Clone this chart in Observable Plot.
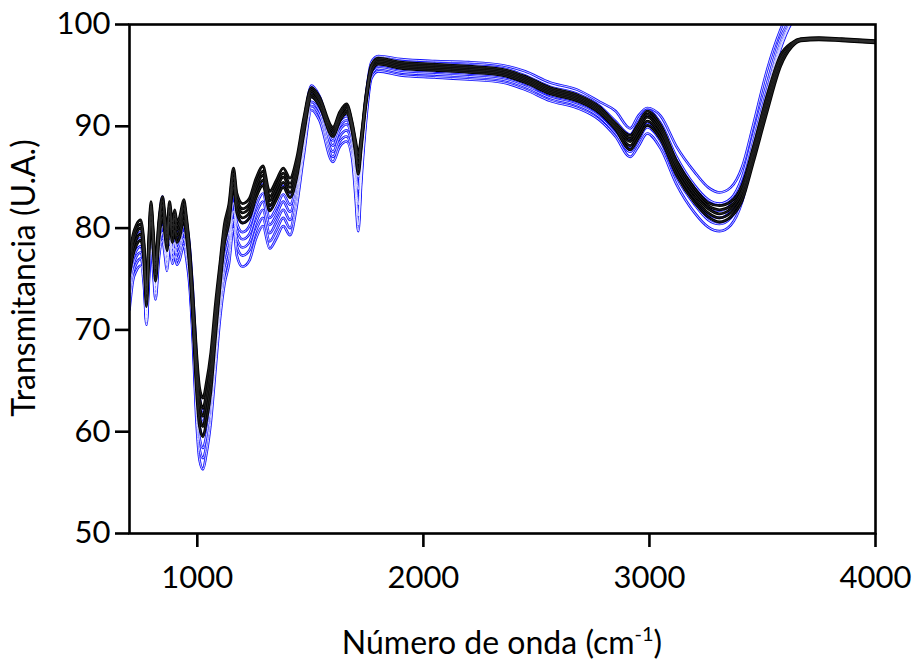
<!DOCTYPE html>
<html><head><meta charset="utf-8">
<script src="https://cdn.jsdelivr.net/npm/d3@7"></script>
<script src="https://cdn.jsdelivr.net/npm/@observablehq/plot@0.6"></script>
<style>body{margin:0;background:#fff} #chart{width:914px;height:660px}</style>
</head><body><div id="chart"></div>
<script>
// Wavenumber (cm-1) sample positions
const wavenumber = [700,715,730,750,765,775,785,795,805,815,830,846,857,866,877,890,900,910,922,940,952,965,980,995,1010,1025,1040,1060,1080,1100,1120,1140,1160,1175,1200,1230,1260,1290,1320,1350,1380,1410,1440,1470,1505,1540,1600,1630,1660,1685,1700,1712,1725,1745,1770,1800,1900,2050,2200,2350,2450,2560,2680,2780,2850,2915,2950,2990,3050,3120,3200,3260,3310,3360,3410,3460,3520,3580,3630,3670,3750,3850,4000];

// Black spectra (transmittance, U.A.)
const black1 = [77.3,79.3,80.3,80.8,78.3,74.3,78.8,82.6,79.8,76.8,80.8,83.1,81.3,79.8,82.6,80.6,81.8,80.6,81.1,82.8,81.1,78.3,
  73.7,68.3,64.3,63.3,64.8,67.8,72.5,76.5,
  80.4,82.4,85.9,83.4,82.4,82.9,84.9,86.1,83.6,84.7,85.9,84.9,86.9,90.7,
  93.8,92.9,89.9,91.4,92.2,90.4,88.6,87.3,89.0,92.9,96.0,
  96.7,96.3,96.1,95.9,95.6,94.9,93.8,93.1,91.9,90.3,
  89.1,90.2,91.5,90.1,86.6,83.9,82.5,82.2,82.6,84.2,88.0,
  93.0,97.0,98.2,98.6,98.7,98.6,98.4];
const black2 = [76.9,78.9,79.9,80.4,77.9,73.9,78.4,82.2,79.4,76.4,80.4,82.7,80.9,79.4,82.2,80.2,81.4,80.2,80.7,82.4,80.7,77.9,
  73.0,67.3,63.3,62.3,63.8,66.8,71.7,76.0,
  79.9,81.9,85.4,82.9,81.9,82.4,84.4,85.6,83.1,84.2,85.4,84.4,86.4,90.4,
  93.6,92.7,89.7,91.2,92.0,90.2,88.3,86.8,88.8,92.7,95.9,
  96.55,96.15,95.95,95.75,95.45,94.75,93.65,92.95,91.75,90.15,
  88.8,89.9,91.2,89.8,86.3,83.6,82.2,81.8,82.2,83.8,87.6,
  92.6,96.7,98.1,98.55,98.65,98.55,98.35];
const black3 = [76.5,78.5,79.5,80.0,77.5,73.5,78.0,81.8,79.0,76.0,80.0,82.3,80.5,79.0,81.8,79.8,81.0,79.8,80.3,82.0,80.3,77.5,
  72.5,66.5,62.5,61.5,63.0,66.0,71.0,75.5,
  79.5,81.5,85.0,82.5,81.5,82.0,84.0,85.2,82.7,83.8,85.0,84.0,86.0,90.0,
  93.4,92.5,89.5,91.0,91.8,90.0,88.0,86.3,88.5,92.5,95.8,
  96.4,96.0,95.8,95.6,95.3,94.6,93.5,92.8,91.6,90.0,
  88.5,89.6,90.9,89.5,86.0,83.3,81.9,81.4,81.9,83.5,87.3,
  92.2,96.5,98.0,98.5,98.6,98.5,98.3];
const black4 = [75.9,77.9,78.9,79.4,76.9,72.9,77.4,81.2,78.4,75.4,79.4,81.7,79.9,78.4,81.2,79.2,80.4,79.2,79.7,81.4,79.7,76.9,
  71.5,65.5,61.5,60.5,62.0,65.0,70.0,74.8,
  79.0,81.0,84.5,82.0,81.0,81.5,83.5,84.7,82.2,83.3,84.5,83.5,85.5,89.5,
  93.1,92.2,89.2,90.7,91.5,89.7,87.7,85.7,88.2,92.2,95.5,
  96.25,95.85,95.65,95.45,95.15,94.45,93.35,92.65,91.45,89.85,
  88.1,89.2,90.5,89.1,85.6,82.9,81.5,81.0,81.5,83.1,86.9,
  91.8,96.2,97.9,98.45,98.55,98.45,98.25];
const black5 = [75.3,77.3,78.3,78.8,76.3,72.3,76.8,80.6,77.8,74.8,78.8,81.1,79.3,77.8,80.6,78.6,79.8,78.6,79.1,80.8,79.1,76.3,
  71.0,64.5,60.5,59.5,61.0,64.0,69.2,74.2,
  78.5,80.5,84.0,81.5,80.5,81.0,83.0,84.2,81.7,82.8,84.0,83.0,85.0,89.1,
  92.9,92.0,89.0,90.5,91.3,89.5,87.3,85.3,87.8,92.0,95.3,
  96.1,95.7,95.5,95.3,95.0,94.3,93.2,92.5,91.3,89.7,
  87.7,88.8,90.1,88.7,85.2,82.5,81.1,80.6,81.1,82.7,86.5,
  91.4,95.9,97.8,98.4,98.5,98.4,98.2];

// Blue spectra (transmittance, U.A.)
const blue1 = [77.0,78.0,79.0,79.6,77.0,73.0,77.5,81.8,78.8,75.8,80.3,83.1,80.2,78.5,81.6,79.5,81.0,79.5,80.0,82.4,80.6,78.5,
  74.0,68.0,63.5,62.0,63.0,65.5,70.0,74.5,
  78.5,80.5,84.0,81.5,80.5,81.0,83.2,84.5,82.0,83.0,84.3,83.3,85.5,90.0,
  94.0,93.0,89.3,90.5,91.0,89.5,87.0,85.0,88.0,92.8,96.3,
  96.9,96.6,96.4,96.3,96.0,95.4,94.3,93.6,92.4,91.5,
  89.8,91.0,91.8,91.0,88.0,85.5,84.0,83.5,84.0,86.0,90.2,
  95.5,99.5,101.8,103.0,105.0,106.0,107.0];
const blue2 = [76.0,77.5,78.5,79.0,76.5,72.0,76.8,80.8,78.0,75.0,79.3,81.8,79.5,78.0,80.8,78.8,80.0,78.8,79.2,81.0,79.2,77.0,
  72.0,65.5,61.8,61.0,62.0,64.8,69.5,74.0,
  77.8,79.7,83.3,80.5,79.6,80.2,82.2,83.4,81.0,82.0,83.3,82.3,84.5,89.0,
  93.3,92.3,88.6,90.0,90.6,89.0,86.5,83.8,87.0,92.0,95.9,
  96.8,96.4,96.2,96.0,95.7,95.0,93.9,93.2,92.0,90.5,
  89.2,90.4,91.6,90.3,87.0,84.2,82.8,82.4,82.9,85.0,89.2,
  94.2,98.7,100.8,102.0,104.0,105.0,106.0];
const blue3 = [75.0,76.8,77.8,78.2,75.8,71.6,76.2,80.0,77.3,74.3,78.5,80.8,78.8,77.3,80.0,78.0,79.2,78.0,78.5,80.2,78.5,76.2,
  71.2,64.5,60.5,59.6,60.6,63.8,68.5,73.3,
  77.0,79.0,82.5,79.8,78.9,79.4,81.4,82.6,80.3,81.3,82.6,81.6,84.0,88.6,
  92.9,92.0,88.1,89.6,90.2,88.6,85.6,82.3,86.2,91.5,95.6,
  96.4,96.0,95.8,95.6,95.3,94.6,93.5,92.8,91.6,90.0,
  88.6,89.8,91.1,89.7,86.2,83.5,82.1,81.7,82.3,84.3,88.6,
  93.6,98.3,100.6,101.8,103.5,104.5,105.5];
const blue4 = [74.2,76.2,77.2,77.6,75.2,71.2,75.6,79.4,76.8,73.9,78.0,80.2,78.3,76.8,79.4,77.5,78.6,77.5,78.0,79.6,78.0,75.6,
  70.4,63.5,59.4,58.4,59.6,62.8,67.5,72.5,
  76.2,78.2,81.7,79.0,78.1,78.6,80.6,81.8,79.5,80.6,81.8,80.8,83.4,88.0,
  92.4,91.5,87.5,89.0,89.6,88.0,84.6,81.2,85.5,91.0,95.3,
  96.0,95.6,95.4,95.2,94.9,94.2,93.1,92.4,91.2,89.6,
  88.0,89.1,90.4,89.1,85.6,82.8,81.4,81.0,81.7,83.8,88.2,
  93.3,98.0,100.4,101.6,103.2,104.2,105.2];
const blue5 = [73.3,75.5,76.5,77.0,74.6,70.8,75.0,78.8,76.2,73.5,77.5,79.6,77.8,76.3,78.8,77.0,78.0,77.0,77.5,79.0,77.5,75.0,
  69.6,62.5,58.3,57.4,58.6,61.8,66.8,71.8,
  75.4,77.4,80.9,78.2,77.3,77.8,79.8,81.0,78.7,79.8,81.0,80.0,82.8,87.5,
  92.0,91.1,87.0,88.5,89.0,87.4,83.8,80.3,85.0,90.6,95.0,
  95.7,95.3,95.1,94.9,94.6,93.9,92.8,92.1,90.9,89.3,
  87.5,88.6,89.9,88.5,85.0,82.3,80.8,80.4,81.0,83.2,87.8,
  93.0,97.8,100.3,101.4,103.0,104.0,105.0];
const blue6 = [72.0,74.8,75.8,76.3,74.0,70.5,74.4,78.0,75.6,73.0,77.0,78.8,77.2,75.8,78.2,76.5,77.3,76.4,76.9,78.3,76.9,74.5,
  69.0,61.5,57.2,56.3,57.8,61.0,66.0,71.0,
  74.5,76.5,80.0,77.3,76.2,76.8,79.0,80.2,78.0,79.0,80.2,79.3,82.2,87.0,
  91.6,90.6,86.5,88.0,88.5,86.8,83.0,79.7,84.4,90.2,94.7,
  95.4,95.0,94.8,94.6,94.3,93.6,92.5,91.8,90.6,89.0,
  87.0,88.0,89.3,87.8,84.3,81.5,80.1,79.7,80.3,82.6,87.3,
  92.7,97.6,100.2,101.2,102.8,103.8,104.8];

const xTicks = [1000, 2000, 3000, 4000];
const yTicks = [50, 60, 70, 80, 90, 100];
const xTitle = "Número de onda (cm";
const xTitleSup = "-1";
const yTitle = "Transmitancia (U.A.)";

const blackSeries = [black1, black2, black3, black4, black5];
const blueSeries = [blue1, blue2, blue3, blue4, blue5, blue6];
const toRows = (list, tag) => list.flatMap((s, i) => s.map((v, j) => ({x: wavenumber[j], y: v, id: tag + i})));
const blueRows = toRows(blueSeries, "blue");
const blackRows = toRows(blackSeries, "black");

const FONT = "Lato, 'Open Sans', sans-serif";
const BLUE = "#1010ff";
const lineOpts = {x: "x", y: "y", z: "id", curve: "monotone-x", clip: true, strokeLinejoin: "round"};
const plain = d => String(d);

const chart = Plot.plot({
  width: 914, height: 660,
  marginLeft: 129, marginRight: 39, marginTop: 24, marginBottom: 127,
  style: {fontFamily: FONT, background: "#fff", color: "#000"},
  x: {domain: [700, 4000]},
  y: {domain: [50, 100]},
  marks: [
    Plot.line(blueRows, {...lineOpts, stroke: BLUE, strokeWidth: 2.6}),
    Plot.line(blueRows, {...lineOpts, stroke: "#fff", strokeWidth: 0.8}),
    Plot.line(blackRows, {...lineOpts, stroke: "#000", strokeWidth: 2.8}),
    Plot.line(blackRows, {...lineOpts, stroke: "#444", strokeWidth: 0.5}),
    Plot.frame({stroke: "#000", strokeWidth: 2.6}),
    Plot.axisX(xTicks, {tickSize: 14, tickPadding: 18, strokeWidth: 2.6, fontSize: 31, label: null, fill: "#000", tickFormat: plain}),
    Plot.axisY(yTicks, {tickSize: 14, tickPadding: 5, strokeWidth: 2.6, fontSize: 31, label: null, fill: "#000", tickFormat: plain})
  ]
});
document.getElementById("chart").appendChild(chart);

const svg = d3.select(chart);
const xt = svg.append("text")
  .attr("x", 502).attr("y", 654)
  .attr("text-anchor", "middle")
  .attr("font-family", FONT).attr("font-size", 32).attr("fill", "#000");
xt.append("tspan").text(xTitle);
xt.append("tspan").attr("font-size", 20).attr("dy", -13).text(xTitleSup);
xt.append("tspan").attr("dy", 13).text(")");

svg.append("text")
  .attr("transform", "translate(35,278) rotate(-90)")
  .attr("text-anchor", "middle")
  .attr("font-family", FONT).attr("font-size", 32).attr("fill", "#000")
  .text(yTitle);
</script>
</body></html>
